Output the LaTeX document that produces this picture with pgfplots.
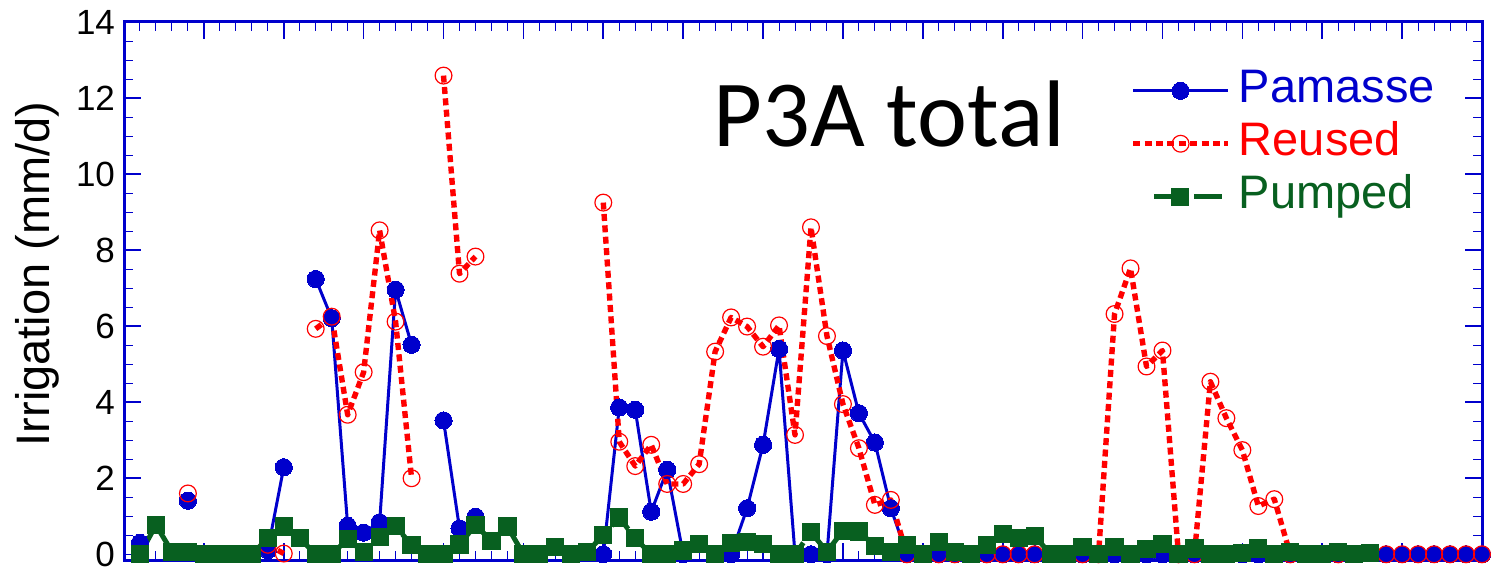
\documentclass[border=0pt]{standalone}
\usepackage{fontspec}
\setmainfont{Liberation Sans}
\newfontfamily\carlito{Carlito}
\usepackage{pgfplots}
\pgfplotsset{compat=1.18}
\definecolor{axblue}{RGB}{0,0,204}
\definecolor{pblue}{RGB}{0,0,204}
\definecolor{pred}{RGB}{255,0,0}
\definecolor{pgreen}{RGB}{8,96,32}
\pgfplotsset{pumpedlegend/.style={legend image code/.code={\draw[##1, dash pattern=on 14pt off 6pt, mark repeat=2, mark phase=2] plot coordinates {(10.5pt,0pt)(23.5pt,0pt)(45.5pt,0pt)};}}}
\begin{document}
\begin{tikzpicture}
\begin{axis}[
  name=ax,
  scale only axis, width=679pt, height=269pt,
  xmin=0, xmax=85, ymin=-0.15, ymax=14,
  clip=false,
  unbounded coords=jump,
  xtick distance=5, minor x tick num=4,
  ytick={0,2,...,14}, minor y tick num=3,
  xticklabels={},
  tick align=inside,
  major tick length=8.5pt, minor tick length=4.5pt,
  every tick/.style={axblue},
  major tick style={line width=0.8pt},
  minor tick style={line width=0.5pt},
  axis line style={axblue, line width=1.5pt},
  /pgf/number format/assume math mode=true,
  tick label style={font=\fontsize{17.5}{20}\selectfont},
  yticklabel style={xshift=-1pt},
  ylabel={Irrigation (mm/d)},
  every axis y label/.style={at={(rel axis cs:-0.0552,0.5316)}, rotate=90, anchor=base, font=\fontsize{23.5}{27}\selectfont, inner sep=0pt},
  legend style={at={(rel axis cs:0.7408,0.912)}, anchor=north west, draw=none, fill=none, inner sep=0pt,
    font=\fontsize{23.5}{27}\selectfont, column sep=4pt, row sep=5.5pt,
    nodes={inner sep=0pt, text height=16.5pt, text depth=4.5pt}},
  legend cell align=left,
  legend image code/.code={\draw[mark repeat=2,mark phase=2,#1] plot coordinates {(0pt,0pt)(23.75pt,0pt)(47.5pt,0pt)};},
]
% Pamasse
\addplot[pblue, line width=1.5pt, line join=round, mark=*, mark size=4.3pt, mark options={solid, fill=pblue, draw=pblue, line width=0pt}] table {
x y
1 0.30
2 nan
4 1.41
5 nan
9 0.11
10 2.29
11 nan
12 7.24
13 6.21
14 0.75
15 0.57
16 0.84
17 6.96
18 5.51
19 nan
20 3.52
21 0.68
22 0.99
23 nan
30 0
31 3.86
32 3.80
33 1.12
34 2.22
35 0
36 nan
38 0
39 1.21
40 2.88
41 5.40
42 0
43 0
44 0
45 5.36
46 3.71
47 2.94
48 1.21
49 0
50 nan
51 0
52 0
53 nan
54 0
55 0
56 0
57 0
58 nan
60 0
61 nan
62 0
63 nan
64 0
65 0
66 nan
67 0
68 nan
70 0
71 0
72 nan
73 0
74 nan
76 0
77 nan
79 0
80 0
81 0
82 0
83 0
84 0
85 0
};
\addlegendentry{\textcolor{pblue}{Pamasse}}
% Reused
\addplot[pred, line width=2.7pt, line join=round, dash pattern=on 3.5pt off 2.2pt, mark=o, mark size=4.2pt, mark options={solid, draw=pred, fill=none, line width=0.6pt}] table {
x y
4 1.60
5 nan
9 0.25
10 0.02
11 nan
12 5.93
13 6.25
14 3.67
15 4.79
16 8.52
17 6.12
18 2.00
19 nan
20 12.59
21 7.38
22 7.83
23 nan
30 9.25
31 2.96
32 2.32
33 2.88
34 1.85
35 1.85
36 2.37
37 5.33
38 6.23
39 5.99
40 5.46
41 6.02
42 3.14
43 8.60
44 5.74
45 3.95
46 2.79
47 1.30
48 1.43
49 0
50 nan
51 0
52 0
53 nan
54 0
55 0
56 0
57 0
58 nan
60 0
61 0
62 6.32
63 7.52
64 4.94
65 5.36
66 0
67 0
68 4.54
69 3.58
70 2.74
71 1.27
72 1.45
73 0
74 nan
76 0
77 nan
79 0
80 0
81 0
82 0
83 0
84 0
85 0
};
\addlegendentry{\textcolor{pred}{Reused}}
% Pumped
\addplot[pgreen, line width=2.5pt, line join=round, dash pattern=on 13pt off 4pt, mark=square*, mark size=4.3pt, mark options={solid, fill=pgreen, draw=pgreen, line width=0pt}, pumpedlegend] table {
x y
1 0
2 0.77
3 0.07
4 0.07
5 0
6 0
7 0
8 0
9 0.42
10 0.73
11 0.42
12 0
13 0
14 0.40
15 0.05
16 0.45
17 0.74
18 0.24
19 0
20 0
21 0.26
22 0.77
23 0.35
24 0.73
25 0
26 0
27 0.20
28 0
29 0.07
30 0.50
31 0.97
32 0.42
33 0
34 0
35 0.10
36 0.27
37 0
38 0.30
39 0.33
40 0.28
41 0
42 0
43 0.58
44 0.07
45 0.62
46 0.60
47 0.22
48 0.07
49 0.24
50 0
51 0.33
52 0.07
53 0
54 0.24
55 0.53
56 0.42
57 0.48
58 0
59 0
60 0.20
61 0
62 0.20
63 0
64 0.13
65 0.27
66 0
67 0.15
68 0
69 0
70 0.04
71 0.15
72 0
73 0.05
74 0
75 0
76 0.05
77 0
78 0.03
};
\addlegendentry{\textcolor{pgreen}{Pumped}}
\node[anchor=base west, inner sep=0pt, font=\carlito\fontsize{47.3}{50}\selectfont] at (rel axis cs:0.434,0.7695) {P3A total};
\end{axis}
\pgfresetboundingbox
\path[use as bounding box] ([shift={(-62pt,-6.5pt)}]ax.south west) rectangle ([shift={(4.5pt,11pt)}]ax.north east);
\end{tikzpicture}
\end{document}
